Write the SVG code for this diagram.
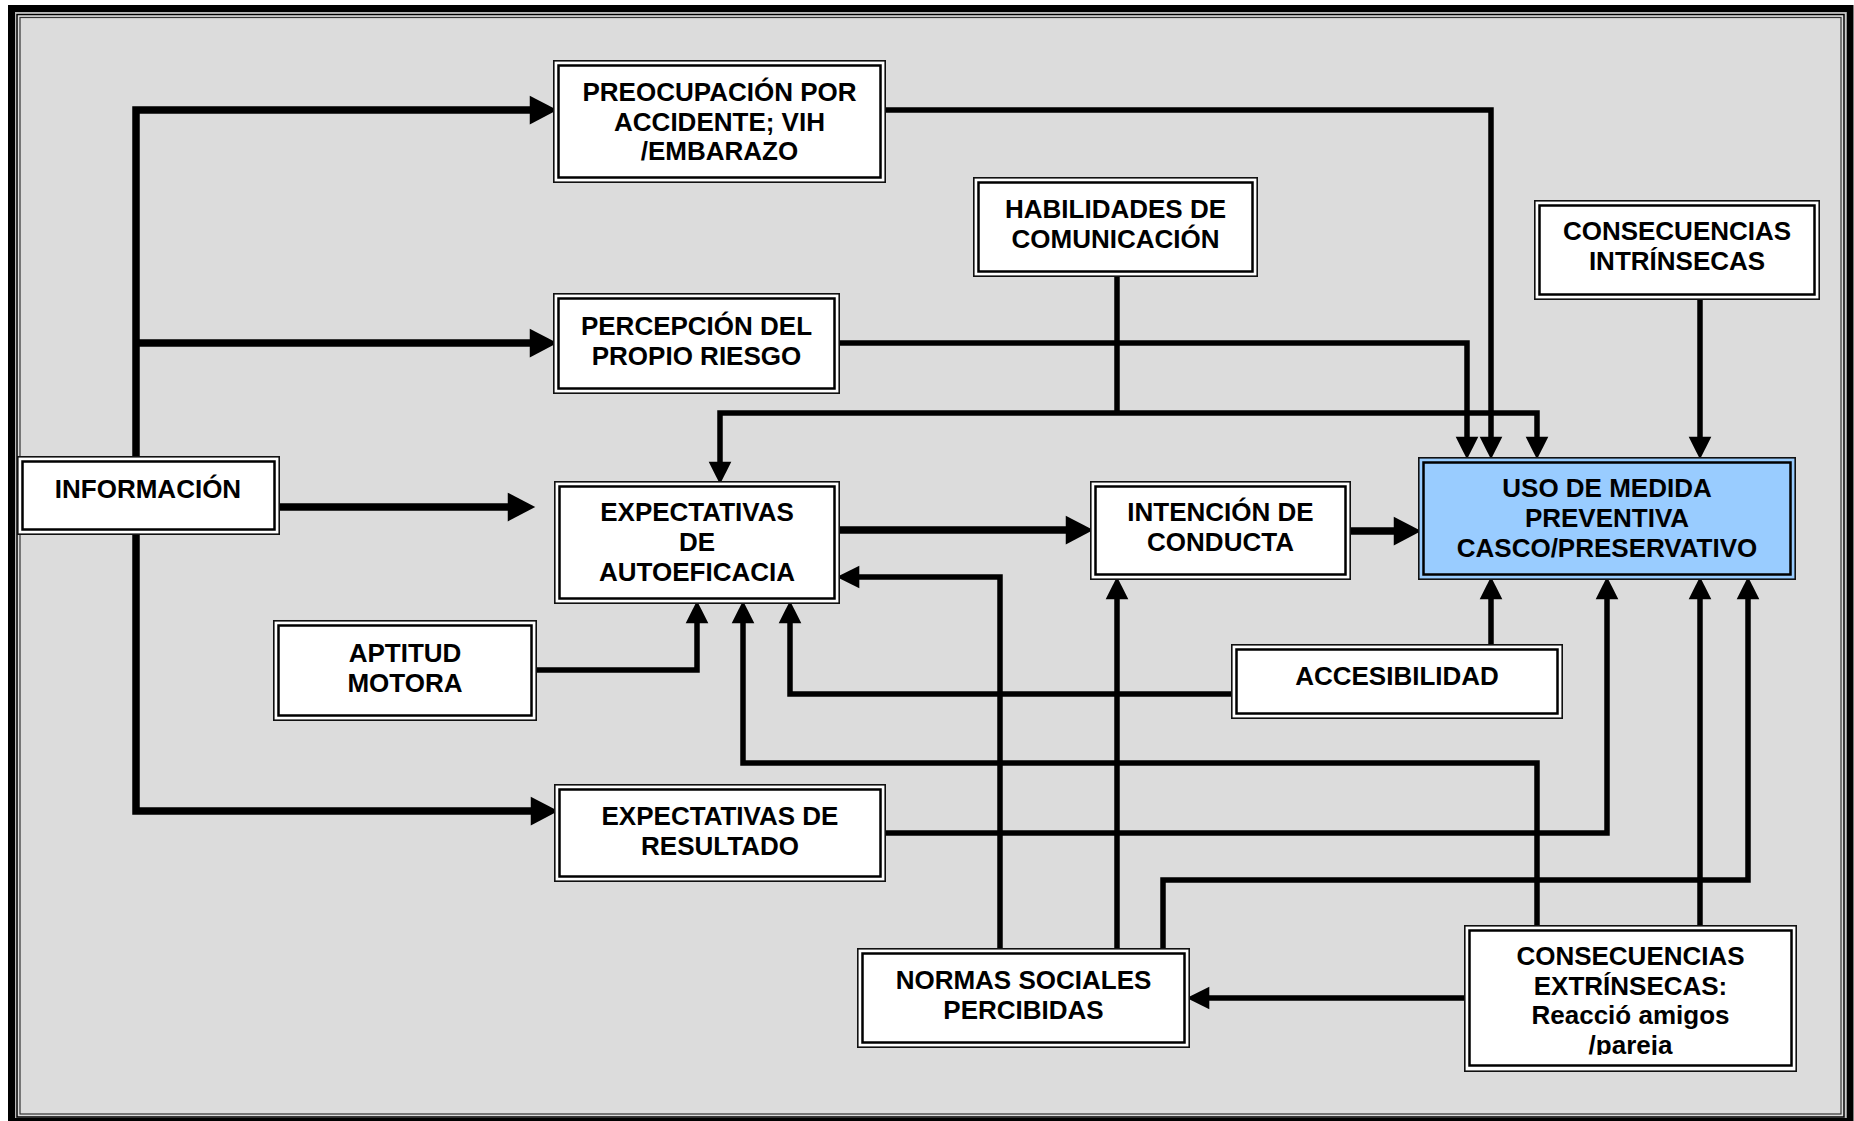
<svg xmlns="http://www.w3.org/2000/svg" width="1854" height="1121" viewBox="0 0 1854 1121">
  <style>
    .bg { fill: #dcdcdc; }
    .frame-thick { fill: none; stroke: #000; stroke-width: 7; }
    .frame-light { fill: none; stroke: #b8b8b8; stroke-width: 1; }
    .frame-thin { fill: none; stroke: #000; stroke-width: 1.5; }
    .frame-thin2 { fill: none; stroke: #333; stroke-width: 1.2; }
    .box-out { fill: #fff; stroke: #111; stroke-width: 1.6; }
    .box-in { fill: none; stroke: #000; stroke-width: 2.5; }
    .blue { fill: #99ccff; }
    .lbl { font-family: "Liberation Sans", Arial, sans-serif; font-weight: bold; font-size: 26px; fill: #000; text-anchor: middle; }
    .wire { fill: none; stroke: #000; stroke-width: 5.5; stroke-linejoin: miter; stroke-linecap: butt; }
    .wire-bold { fill: none; stroke: #000; stroke-width: 7.5; stroke-linejoin: miter; stroke-linecap: butt; }
  </style>
  <defs>
    <marker id="ah-lg" markerUnits="userSpaceOnUse" markerWidth="30" markerHeight="30" viewBox="0 -12 23 24" refX="9" refY="0" orient="auto" overflow="visible">
      <path d="M0,-11.5 L22,0 L0,11.5 Z" fill="#000"/>
    </marker>
    <marker id="ah-sm" markerUnits="userSpaceOnUse" markerWidth="24" markerHeight="24" viewBox="0 -9 18 18" refX="7" refY="0" orient="auto" overflow="visible">
      <path d="M0,-8.5 L17,0 L0,8.5 Z" fill="#000"/>
    </marker>
    <clipPath id="clip-ext">
      <rect x="1470" y="930" width="320" height="125"/>
    </clipPath>
  </defs>

  <!-- page frame -->
  <g id="frame">
    <rect x="11.5" y="8.5" width="1838.5" height="1113" class="bg"/>
    <rect x="11.5" y="8.5" width="1838.5" height="1113" class="frame-thick"/>
    <rect x="15.5" y="12.5" width="1830.5" height="1105" class="frame-light"/>
    <rect x="17" y="14.5" width="1827" height="1102.5" class="frame-thin"/>
    <rect x="20" y="17.5" width="1821" height="1096.5" class="frame-thin2"/>
  </g>

  <!-- connectors -->
  <g id="connectors">
    <!-- INFORMACIÓN branches -->
    <path class="wire-bold" d="M136,456 V110 H541" marker-end="url(#ah-lg)"/>
    <path class="wire-bold" d="M136,343 H541" marker-end="url(#ah-lg)"/>
    <path class="wire-bold" d="M280,507 H519" marker-end="url(#ah-lg)"/>
    <path class="wire-bold" d="M136,535 V811 H542" marker-end="url(#ah-lg)"/>
    <!-- main chain -->
    <path class="wire-bold" d="M840,530 H1077" marker-end="url(#ah-lg)"/>
    <path class="wire-bold" d="M1351,531 H1405" marker-end="url(#ah-lg)"/>
    <!-- into USO DE MEDIDA (top) -->
    <path class="wire" d="M886,110 H1491 V446" marker-end="url(#ah-sm)"/>
    <path class="wire" d="M840,343 H1467 V446" marker-end="url(#ah-sm)"/>
    <path class="wire" d="M1117,277 V413"/>
    <path class="wire" d="M1117,413 H720 V471" marker-end="url(#ah-sm)"/>
    <path class="wire" d="M1117,413 H1537 V446" marker-end="url(#ah-sm)"/>
    <path class="wire" d="M1700,300 V446" marker-end="url(#ah-sm)"/>
    <!-- into USO DE MEDIDA (bottom) -->
    <path class="wire" d="M1491,644 V590" marker-end="url(#ah-sm)"/>
    <path class="wire" d="M886,833 H1607 V590" marker-end="url(#ah-sm)"/>
    <path class="wire" d="M1700,925 V590" marker-end="url(#ah-sm)"/>
    <path class="wire" d="M1163,948 V880 H1748 V590" marker-end="url(#ah-sm)"/>
    <!-- into EXPECTATIVAS DE AUTOEFICACIA -->
    <path class="wire" d="M537,670 H697 V614" marker-end="url(#ah-sm)"/>
    <path class="wire" d="M1231,694 H790 V614" marker-end="url(#ah-sm)"/>
    <path class="wire" d="M1537,925 V763 H743 V614" marker-end="url(#ah-sm)"/>
    <path class="wire" d="M1000,948 V577 H850" marker-end="url(#ah-sm)"/>
    <!-- into INTENCIÓN DE CONDUCTA -->
    <path class="wire" d="M1117,948 V590" marker-end="url(#ah-sm)"/>
    <!-- into NORMAS SOCIALES -->
    <path class="wire" d="M1464,998 H1200" marker-end="url(#ah-sm)"/>
  </g>

  <!-- nodes -->
  <g id="preocupacion">
    <rect class="box-out" x="553.8" y="60.8" width="331.4" height="121.4"/>
    <rect class="box-in" x="558.5" y="65.5" width="322" height="112"/>
    <text class="lbl" x="719.5" y="101">PREOCUPACIÓN POR</text>
    <text class="lbl" x="719.5" y="130.5">ACCIDENTE; VIH</text>
    <text class="lbl" x="719.5" y="160">/EMBARAZO</text>
  </g>

  <g id="habilidades">
    <rect class="box-out" x="973.8" y="177.8" width="283.4" height="98.4"/>
    <rect class="box-in" x="978.5" y="182.5" width="274" height="89"/>
    <text class="lbl" x="1115.5" y="218">HABILIDADES DE</text>
    <text class="lbl" x="1115.5" y="248">COMUNICACIÓN</text>
  </g>

  <g id="consecuencias-intrinsecas">
    <rect class="box-out" x="1534.8" y="200.8" width="284.4" height="98.4"/>
    <rect class="box-in" x="1539.5" y="205.5" width="275" height="89"/>
    <text class="lbl" x="1677" y="240">CONSECUENCIAS</text>
    <text class="lbl" x="1677" y="270">INTRÍNSECAS</text>
  </g>

  <g id="percepcion">
    <rect class="box-out" x="553.8" y="293.8" width="285.4" height="99.4"/>
    <rect class="box-in" x="558.5" y="298.5" width="276" height="90"/>
    <text class="lbl" x="696.5" y="335">PERCEPCIÓN DEL</text>
    <text class="lbl" x="696.5" y="365">PROPIO RIESGO</text>
  </g>

  <g id="informacion">
    <rect class="box-out" x="17.8" y="456.8" width="261.4" height="77.4"/>
    <rect class="box-in" x="22.5" y="461.5" width="252" height="68"/>
    <text class="lbl" x="148" y="498">INFORMACIÓN</text>
  </g>

  <g id="autoeficacia">
    <rect class="box-out" x="554.8" y="481.8" width="284.4" height="121.4"/>
    <rect class="box-in" x="559.5" y="486.5" width="275" height="112"/>
    <text class="lbl" x="697" y="521">EXPECTATIVAS</text>
    <text class="lbl" x="697" y="551">DE</text>
    <text class="lbl" x="697" y="581">AUTOEFICACIA</text>
  </g>

  <g id="intencion">
    <rect class="box-out" x="1090.8" y="481.8" width="259.4" height="97.4"/>
    <rect class="box-in" x="1095.5" y="486.5" width="250" height="88"/>
    <text class="lbl" x="1220.5" y="521">INTENCIÓN DE</text>
    <text class="lbl" x="1220.5" y="551">CONDUCTA</text>
  </g>

  <g id="uso-medida">
    <rect class="box-out blue" x="1418.8" y="457.8" width="376.4" height="121.4"/>
    <rect class="box-in" x="1423.5" y="462.5" width="367" height="112"/>
    <text class="lbl" x="1607" y="497">USO DE MEDIDA</text>
    <text class="lbl" x="1607" y="527">PREVENTIVA</text>
    <text class="lbl" x="1607" y="557">CASCO/PRESERVATIVO</text>
  </g>

  <g id="aptitud">
    <rect class="box-out" x="273.8" y="620.8" width="262.4" height="99.4"/>
    <rect class="box-in" x="278.5" y="625.5" width="253" height="90"/>
    <text class="lbl" x="405" y="661.5">APTITUD</text>
    <text class="lbl" x="405" y="691.5">MOTORA</text>
  </g>

  <g id="accesibilidad">
    <rect class="box-out" x="1231.8" y="644.8" width="330.4" height="73.4"/>
    <rect class="box-in" x="1236.5" y="649.5" width="321" height="64"/>
    <text class="lbl" x="1397" y="685">ACCESIBILIDAD</text>
  </g>

  <g id="resultado">
    <rect class="box-out" x="554.8" y="784.8" width="330.4" height="96.4"/>
    <rect class="box-in" x="559.5" y="789.5" width="321" height="87"/>
    <text class="lbl" x="720" y="825">EXPECTATIVAS DE</text>
    <text class="lbl" x="720" y="855">RESULTADO</text>
  </g>

  <g id="normas">
    <rect class="box-out" x="857.8" y="948.8" width="331.4" height="98.4"/>
    <rect class="box-in" x="862.5" y="953.5" width="322" height="89"/>
    <text class="lbl" x="1023.5" y="989">NORMAS SOCIALES</text>
    <text class="lbl" x="1023.5" y="1019">PERCIBIDAS</text>
  </g>

  <g id="consecuencias-extrinsecas">
    <rect class="box-out" x="1464.8" y="925.8" width="331.4" height="145.4"/>
    <rect class="box-in" x="1469.5" y="930.5" width="322" height="135"/>
    <g clip-path="url(#clip-ext)">
      <text class="lbl" x="1630.5" y="965">CONSECUENCIAS</text>
      <text class="lbl" x="1630.5" y="995">EXTRÍNSECAS:</text>
      <text class="lbl" x="1630.5" y="1024">Reacció amigos</text>
      <text class="lbl" x="1630.5" y="1054">/pareja</text>
    </g>
  </g>
</svg>
